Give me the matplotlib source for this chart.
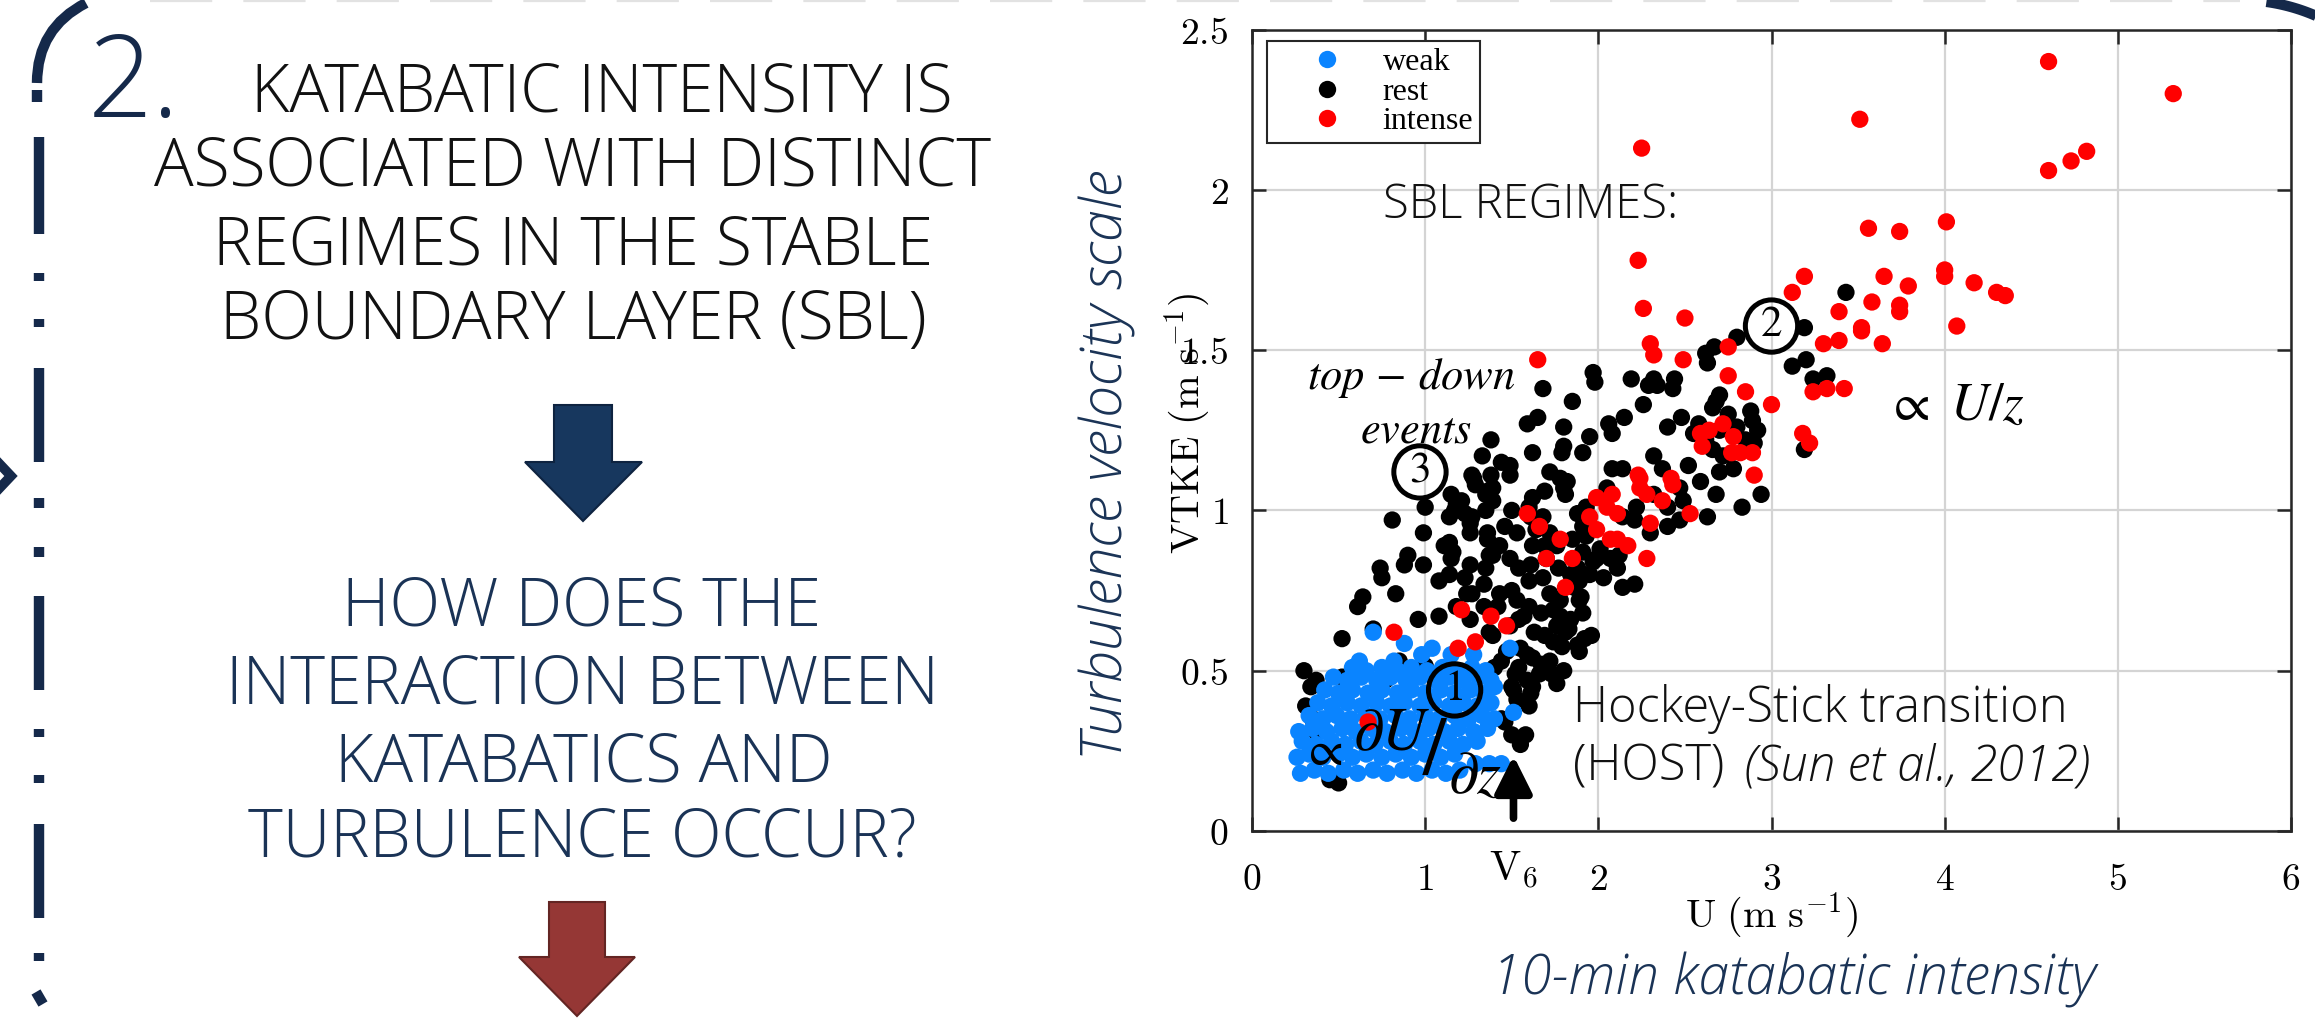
import numpy as np
import matplotlib
matplotlib.use('Agg')
import matplotlib.pyplot as plt
from matplotlib.lines import Line2D
from matplotlib.patches import Polygon, PathPatch
from matplotlib.path import Path
from matplotlib.ticker import FuncFormatter, FixedLocator
from matplotlib import font_manager as fm

# ---------------- data ----------------
x_ticks = [0, 1, 2, 3, 4, 5, 6]
y_ticks = [0, 0.5, 1, 1.5, 2, 2.5]
legend_labels = ['weak', 'rest', 'intense']

weak_pts = [
    (0.28, 0.18), (0.36, 0.19), (0.44, 0.18), (0.53, 0.19), (0.61, 0.18), (0.70, 0.19), (0.78, 0.18),
    (0.87, 0.19), (0.95, 0.18), (1.04, 0.19), (1.12, 0.18), (1.20, 0.19),
    (1.29, 0.21), (1.37, 0.21), (1.44, 0.21),
    (0.26, 0.23), (0.33, 0.24), (0.41, 0.23), (0.50, 0.24), (0.58, 0.23), (0.66, 0.24), (0.75, 0.23),
    (0.83, 0.24), (0.92, 0.23), (1.00, 0.24), (1.09, 0.23), (1.17, 0.24),
    (0.29, 0.28), (0.37, 0.27), (0.46, 0.28), (0.54, 0.27), (0.63, 0.28), (0.71, 0.27), (0.80, 0.28),
    (0.88, 0.27), (0.97, 0.28), (1.05, 0.27), (1.14, 0.28), (1.22, 0.27), (1.30, 0.28),
    (0.27, 0.31), (0.35, 0.32), (0.43, 0.31), (0.52, 0.32), (0.60, 0.31), (0.69, 0.32), (0.77, 0.31),
    (0.86, 0.32), (0.94, 0.31), (1.02, 0.32), (1.11, 0.31), (1.19, 0.32), (1.28, 0.31), (1.36, 0.32),
    (0.33, 0.36), (0.41, 0.35), (0.49, 0.36), (0.57, 0.35), (0.66, 0.36), (0.74, 0.35), (0.83, 0.36),
    (0.91, 0.35), (1.00, 0.36), (1.08, 0.35), (1.17, 0.36), (1.25, 0.35), (1.33, 0.36), (1.40, 0.35),
    (1.51, 0.37),
    (0.38, 0.40), (0.46, 0.39), (0.55, 0.40), (0.63, 0.39), (0.72, 0.40), (0.80, 0.39), (0.88, 0.40),
    (0.97, 0.39), (1.05, 0.40), (1.14, 0.39), (1.22, 0.40), (1.30, 0.39), (1.38, 0.40),
    (0.42, 0.44), (0.50, 0.43), (0.58, 0.44), (0.67, 0.43), (0.75, 0.44), (0.84, 0.43), (0.92, 0.44),
    (1.00, 0.43), (1.09, 0.44), (1.17, 0.43), (1.26, 0.44), (1.34, 0.43), (1.40, 0.45),
    (0.47, 0.48), (0.55, 0.47), (0.63, 0.48), (0.72, 0.47), (0.80, 0.48), (0.89, 0.47), (0.97, 0.48),
    (1.06, 0.47), (1.14, 0.48), (1.22, 0.47), (1.31, 0.48), (1.38, 0.47),
    (0.58, 0.51), (0.66, 0.50), (0.75, 0.51), (0.84, 0.50), (0.92, 0.51), (1.01, 0.50), (1.10, 0.51),
    (1.18, 0.50), (1.27, 0.51), (1.35, 0.50),
    (0.70, 0.62), (0.88, 0.585), (1.04, 0.57), (0.62, 0.53), (0.82, 0.53), (1.15, 0.55), (0.98, 0.55),
    (1.49, 0.57), (1.28, 0.55),
]

rest_pts = [
    (0.30, 0.50), (0.37, 0.47), (0.34, 0.45), (0.31, 0.39), (0.35, 0.35), (0.37, 0.31), (0.50, 0.15),
    (0.45, 0.16), (0.52, 0.48), (0.52, 0.60), (0.61, 0.70), (0.64, 0.73), (0.70, 0.63), (0.75, 0.79),
    (0.74, 0.82), (0.77, 0.47), (0.83, 0.74), (0.81, 0.97), (0.85, 0.53), (0.88, 0.83), (0.90, 0.86),
    (0.96, 0.66), (0.99, 0.93), (0.99, 0.83), (1.00, 0.515), (1.00, 1.01), (1.08, 0.78), (1.08, 0.67),
    (1.11, 0.89), (1.14, 0.90), (1.15, 0.85), (1.17, 1.00), (1.15, 1.05), (1.21, 1.03), (1.23, 0.79),
    (1.23, 0.99), (1.26, 0.96), (1.27, 0.74), (1.29, 1.08), (1.35, 0.82), (1.35, 1.00), (1.35, 1.05),
    (1.38, 1.22), (1.38, 1.11), (1.39, 0.86), (1.39, 1.07), (1.39, 0.61), (1.42, 0.70), (1.44, 0.53),
    (1.44, 1.15), (1.46, 0.95), (1.49, 1.11), (1.49, 1.14), (1.50, 0.75), (1.50, 0.45), (1.50, 0.30),
    (1.46, 0.34), (1.54, 0.82), (1.54, 0.66), (1.54, 0.51), (1.55, 0.57), (1.55, 0.27), (1.58, 0.30),
    (1.60, 0.78), (1.60, 0.70), (1.60, 0.39), (1.60, 1.01), (1.62, 0.45), (1.62, 0.54), (1.62, 1.04),
    (1.64, 0.94), (1.67, 0.68), (1.67, 0.52), (1.69, 0.89), (1.69, 1.06), (1.69, 0.61), (1.73, 0.49),
    (1.76, 0.46), (1.77, 0.82), (1.79, 0.575), (1.80, 0.50), (1.81, 1.05), (1.83, 0.63), (1.85, 0.91),
    (1.89, 0.78), (1.89, 0.56), (1.92, 0.60), (1.96, 0.61), (1.35, 0.41), (1.44, 0.35),
    (1.14, 0.80), (1.26, 0.83), (1.37, 0.86), (1.49, 0.85), (1.61, 0.83), (1.68, 0.79), (1.72, 0.74),
    (1.74, 0.69), (1.76, 0.64), (1.74, 0.59), (1.72, 0.53), (1.66, 0.49), (1.59, 0.47), (1.51, 0.44),
    (1.24, 0.74), (1.34, 0.77), (1.43, 0.74), (1.53, 0.72), (1.57, 0.67), (1.49, 0.64), (1.63, 0.62),
    (1.59, 0.55), (1.47, 0.56), (1.37, 0.62), (1.26, 0.66), (1.18, 0.70), (1.34, 0.70), (1.40, 0.51),
    (1.52, 0.49), (1.61, 0.43), (1.53, 0.41),
    (1.88, 0.58), (1.78, 0.67), (1.84, 0.66), (1.81, 0.62), (1.86, 0.76), (1.90, 0.73), (1.91, 0.68),
    (1.84, 0.80), (1.97, 0.84), (2.07, 0.85), (2.03, 0.79), (2.11, 0.82), (2.14, 0.76), (1.72, 0.93),
    (1.68, 0.98), (1.76, 0.89), (1.53, 0.93), (1.61, 0.98), (1.43, 0.89), (1.26, 0.93), (1.36, 0.91),
    (1.16, 0.87), (1.14, 0.98),
    (1.93, 1.01), (2.05, 1.07), (2.14, 0.98), (2.22, 1.01), (2.21, 0.97), (2.32, 1.05), (2.40, 1.01),
    (2.47, 1.07), (2.49, 1.03), (2.47, 0.97), (2.40, 0.95), (2.30, 0.93), (2.12, 0.86), (1.93, 0.92),
    (1.91, 0.87), (2.01, 0.88), (1.95, 0.80), (1.88, 0.82), (1.89, 0.72), (1.78, 0.72), (1.99, 0.85),
    (1.91, 0.95), (1.88, 0.99), (2.21, 0.77),
    (1.28, 1.10), (1.36, 1.06), (1.39, 1.03), (1.18, 1.02), (1.27, 0.98), (1.36, 0.93), (1.50, 1.00),
    (1.72, 1.12), (1.78, 1.10), (1.82, 1.09), (1.62, 0.89), (1.70, 0.85),
    (1.33, 1.17), (1.80, 1.20), (1.91, 1.18), (1.95, 1.23), (2.08, 1.13), (2.14, 1.13), (2.32, 1.17),
    (2.37, 1.13), (2.52, 1.14), (2.59, 1.09), (2.68, 1.05), (2.63, 0.98), (2.83, 1.01), (2.94, 1.05),
    (1.59, 1.27), (1.65, 1.29), (1.80, 1.26), (2.06, 1.27), (2.08, 1.24), (2.15, 1.29), (2.48, 1.29),
    (2.40, 1.26), (1.68, 1.38), (1.85, 1.34), (2.26, 1.33), (2.68, 1.34), (2.66, 1.32), (1.97, 1.43),
    (1.98, 1.40), (2.19, 1.41), (2.32, 1.41), (2.29, 1.39), (2.44, 1.41), (1.79, 1.18), (1.80, 1.07),
    (1.62, 1.18), (1.27, 1.11),
    (2.62, 1.49), (2.67, 1.51), (2.80, 1.54), (2.63, 1.46),
    (2.55, 1.24), (2.66, 1.19), (2.72, 1.17), (2.88, 1.31), (2.89, 1.28), (2.90, 1.21), (2.92, 1.25),
    (3.43, 1.68), (3.19, 1.57), (3.12, 1.45), (3.20, 1.47), (3.24, 1.41), (3.32, 1.42), (3.19, 1.19),
    (2.62, 1.22), (2.70, 1.25), (2.75, 1.30), (2.80, 1.26), (2.85, 1.22), (2.70, 1.12), (2.78, 1.13),
    (2.70, 1.36), (2.58, 1.27), (2.34, 1.39), (2.43, 1.38),
]

intense_pts = [
    (4.60, 2.40), (5.32, 2.30), (3.51, 2.22), (4.60, 2.06), (4.73, 2.09), (4.82, 2.12), (3.56, 1.88),
    (3.74, 1.87), (4.01, 1.90), (3.65, 1.73), (3.79, 1.70), (4.00, 1.75), (4.00, 1.73), (4.17, 1.71),
    (4.30, 1.68), (4.35, 1.67), (3.58, 1.65), (3.74, 1.64), (3.74, 1.62), (3.52, 1.57), (4.07, 1.575),
    (3.19, 1.73), (3.12, 1.68), (3.39, 1.62), (3.52, 1.56), (3.30, 1.52), (3.39, 1.53), (3.64, 1.52),
    (3.24, 1.37), (3.32, 1.38), (3.42, 1.38), (3.00, 1.33), (3.18, 1.24), (3.22, 1.21), (2.89, 1.18),
    (2.90, 1.11),
    (2.25, 2.13), (2.23, 1.78), (2.26, 1.63), (2.50, 1.60), (2.30, 1.52), (2.32, 1.485), (2.49, 1.47),
    (2.75, 1.51), (2.75, 1.42), (2.85, 1.37), (1.65, 1.47),
    (2.59, 1.24), (2.64, 1.25), (2.60, 1.20), (2.72, 1.27), (2.78, 1.23), (2.77, 1.18), (2.82, 1.18),
    (2.23, 1.11), (2.42, 1.10),
    (1.59, 0.99), (1.66, 0.95), (1.78, 0.91), (1.70, 0.85), (1.85, 0.85), (1.81, 0.76),
    (1.99, 1.04), (2.08, 1.05), (2.05, 1.01), (2.11, 0.99), (1.95, 0.98), (1.99, 0.94), (2.07, 0.91),
    (2.11, 0.91), (2.17, 0.89), (2.30, 0.96), (2.28, 0.85), (2.24, 1.10), (2.24, 1.07), (2.28, 1.05),
    (2.37, 1.03), (2.43, 1.08), (2.53, 0.99),
    (0.82, 0.62), (1.21, 0.69), (1.38, 0.67), (1.47, 0.64), (1.19, 0.57), (1.29, 0.59), (0.67, 0.34),
]

# ---------------- style ----------------
W, H = 2315, 1021
NAVY = '#15294a'
NAVY_TXT = '#1a3356'
C_WEAK, C_REST, C_INT = '#0a84ff', '#000000', '#ff0000'

plt.rcParams['mathtext.fontset'] = 'cm'


def pick_light():
    for fam in ['Open Sans', 'Lato', 'Roboto', 'Noto Sans', 'Inter']:
        try:
            p = fm.findfont(fm.FontProperties(family=fam, weight='light'), fallback_to_default=False)
            if 'light' in p.lower():
                return fam
        except Exception:
            pass
    return 'Open Sans'

LIGHT = pick_light()

fig = plt.figure(figsize=(W / 100, H / 100), dpi=100)
renderer = fig.canvas.get_renderer()

# decoration layer in pixel coordinates (y down)
deco = fig.add_axes([0, 0, 1, 1])
deco.set_xlim(0, W)
deco.set_ylim(H, 0)
deco.axis('off')


def fit(t, width=None, height=None):
    bb = t.get_window_extent(renderer)
    if width is not None:
        t.set_fontsize(t.get_fontsize() * width / bb.width)
    else:
        t.set_fontsize(t.get_fontsize() * height / bb.height)


# ---- left dash-dot border ----
segs = [(137, 234), (273, 281), (319, 327), (368, 462), (498, 508), (547, 557), (596, 690),
        (729, 737), (775, 783), (824, 918), (953, 961)]
for a, b in segs:
    deco.plot([39, 39], [a, b], color=NAVY, lw=7.5, solid_capstyle='butt')
deco.plot([36, 43], [992, 1004], color=NAVY, lw=7.5, solid_capstyle='butt')
deco.plot([37, 37], [90, 102], color=NAVY, lw=7.5, solid_capstyle='butt')
arc = Path([(37, 83), (37, 28), (86, 3)], [Path.MOVETO, Path.CURVE3, Path.CURVE3])
deco.add_patch(PathPatch(arc, fc='none', ec=NAVY, lw=7.5, capstyle='butt'))
deco.plot([-6, 11, -6], [458, 476, 494], color=NAVY, lw=7, solid_joinstyle='miter')
# top faint dashes
deco.plot([150, 2240], [1.0, 1.0], color='#e2e2e2', lw=1.6, dashes=(28, 14))
# top-right corner arc
tt = np.linspace(np.radians(82), np.radians(45), 40)
deco.plot(2240 + 190 * np.cos(tt), 190 - 190 * np.sin(tt), color=NAVY, lw=7.5, solid_capstyle='butt')

# ---- left panel texts ----
deco.text(88, 117, '2.', color=NAVY, fontsize=82, family=LIGHT, fontweight='light',
          ha='left', va='baseline')
top_lines = [('KATABATIC INTENSITY IS', 602, 111, 712), ('ASSOCIATED WITH DISTINCT', 573, 186, 845),
             ('REGIMES IN THE STABLE', 573, 264, 705), ('BOUNDARY LAYER (SBL)', 573, 339, 705)]
bot_lines = [('HOW DOES THE', 582, 625, 477), ('INTERACTION BETWEEN', 582, 703, 716),
             ('KATABATICS AND', 584, 781, 508), ('TURBULENCE OCCUR?', 582, 856, 659)]
for lines, col in [(top_lines, '#111111'), (bot_lines, NAVY_TXT)]:
    objs = []
    ratios = []
    for s, xc, yb, wd in lines:
        t = deco.text(xc, yb, s, color=col, fontsize=48, family=LIGHT, fontweight='light',
                      ha='center', va='baseline')
        bb = t.get_window_extent(renderer)
        ratios.append(wd / bb.width)
        objs.append(t)
    r = float(np.mean(ratios))
    for t in objs:
        t.set_fontsize(48 * r)

# arrows
navy_arrow = [(554, 405), (612, 405), (612, 462), (642, 462), (583, 521), (525, 462), (554, 462)]
deco.add_patch(Polygon(navy_arrow, closed=True, fc='#17375e', ec='#0e2340', lw=1.5))
red_arrow = [(549, 902), (605, 902), (605, 957), (635, 957), (577, 1016), (519, 957), (549, 957)]
deco.add_patch(Polygon(red_arrow, closed=True, fc='#953735', ec='#632523', lw=1.5))

# side labels
ty = deco.text(1108, 465, 'Turbulence velocity scale', color=NAVY_TXT, fontsize=36, family=LIGHT,
               fontweight='light', style='italic', rotation=90, ha='center', va='center')
fit(ty, height=590)
tx = deco.text(1794, 980, '10-min katabatic intensity', color=NAVY_TXT, fontsize=36, family=LIGHT,
               fontweight='light', style='italic', ha='center', va='center')
fit(tx, width=606)

# ---------------- main scatter axes ----------------
ax = fig.add_axes([1252 / W, 1 - 831 / H, 1039 / W, 801.5 / H])
ax.set_xlim(0, 6)
ax.set_ylim(0, 2.5)
ax.xaxis.set_major_locator(FixedLocator(x_ticks))
ax.yaxis.set_major_locator(FixedLocator(y_ticks))
fmt = FuncFormatter(lambda v, p: '$%g$' % v)
ax.xaxis.set_major_formatter(fmt)
ax.yaxis.set_major_formatter(fmt)
ax.grid(True, color='#d4d4d4', lw=1.6)
ax.set_axisbelow(True)
for sp in ax.spines.values():
    sp.set_color('#262626')
    sp.set_linewidth(1.8)
ax.tick_params(direction='in', length=10, width=1.8, color='#262626', top=True, right=True,
               labelsize=27)
ax.tick_params(axis='x', pad=22)
ax.tick_params(axis='y', pad=17)

wu, wv = zip(*weak_pts)
ru, rv = zip(*rest_pts)
iu, iv = zip(*intense_pts)
S = 155
ax.scatter(ru, rv, s=S, c=C_REST, edgecolors='none', zorder=2)
ax.scatter(wu, wv, s=S, c=C_WEAK, edgecolors='none', zorder=2.1)
ax.scatter(iu, iv, s=S, c=C_INT, edgecolors='none', zorder=2.2)

handles = [Line2D([], [], ls='none', marker='o', ms=12.5, mfc=c, mec='none')
           for c in (C_WEAK, C_REST, C_INT)]
leg = ax.legend(handles, legend_labels, loc='upper left', bbox_to_anchor=(0.0144, 0.9857),
                borderaxespad=0, frameon=True, fancybox=False, edgecolor='#262626', framealpha=1,
                prop=dict(family='Liberation Serif', size=23), handlelength=3.3, handletextpad=0.1,
                labelspacing=0.0, borderpad=0.22)
leg.get_frame().set_linewidth(1.5)

# axis labels (serif, LaTeX-like)
ax.text(0.5, -0.106, r'$\mathrm{U\ (m\ s^{-1})}$', transform=ax.transAxes, ha='center',
        va='center', fontsize=29)
ax.text(-0.0616, 0.508, r'$\mathrm{VTKE\ (m\ s^{-1})}$', transform=ax.transAxes, ha='center',
        va='center', fontsize=29, rotation=90)
ax.text(1.51, -0.022, r'$\mathrm{V}_6$', transform=ax.get_xaxis_transform(), ha='center',
        va='top', fontsize=30)
ax.annotate('', xy=(1.51, 0.235), xytext=(1.51, 0.04),
            arrowprops=dict(arrowstyle='-|>,head_length=0.8,head_width=0.4', lw=5.5, color='k',
                            mutation_scale=28, shrinkA=0, shrinkB=0), zorder=5)

# annotations
ts = ax.text(1.61, 1.95, 'SBL REGIMES:', family=LIGHT, fontweight='light', fontsize=36,
             ha='center', va='center', color='#111111')
fit(ts, width=295)
th = ax.text(1.853, 0.34, 'Hockey-Stick transition', family=LIGHT, fontweight='light', fontsize=34,
             ha='left', va='baseline', color='#111111')
fit(th, width=495)
hs = th.get_fontsize()
ax.text(1.853, 0.157, '(HOST)', family=LIGHT, fontweight='light', fontsize=hs, ha='left',
        va='baseline', color='#111111')
ax.text(2.84, 0.157, '(Sun et al., 2012)', family=LIGHT, fontweight='light', style='italic',
        fontsize=hs, ha='left', va='baseline', color='#111111')

ax.text(0.92, 1.413, r'$top\,-\,down$', fontsize=32, math_fontfamily='stix', ha='center',
        va='center', zorder=6)
ax.text(0.95, 1.25, r'$events$', fontsize=32, math_fontfamily='stix', ha='center', va='center',
        zorder=6)
ax.text(4.06, 1.33, r'$\propto\ U/z$', fontsize=38, math_fontfamily='stix', ha='center',
        va='center', zorder=6)
ax.text(0.40, 0.25, r'$\propto$', fontsize=36, math_fontfamily='stix', ha='center', va='center',
        zorder=6)
ax.text(0.81, 0.305, r'$\partial U$', fontsize=44, math_fontfamily='stix', ha='center', va='center',
        zorder=6)
ax.text(1.06, 0.25, r'$/$', fontsize=60, math_fontfamily='stix', ha='center', va='center', zorder=6)
ax.text(1.29, 0.17, r'$\partial z$', fontsize=44, math_fontfamily='stix', ha='center', va='center',
        zorder=6)

for num, (cu, cv) in zip(['1', '2', '3'], [(1.17, 0.44), (3.0, 1.575), (0.97, 1.12)]):
    ax.text(cu, cv, num, family='STIXGeneral', fontsize=31, ha='center', va='center', zorder=7,
            bbox=dict(boxstyle='circle,pad=0.16', fc='none', ec='k', lw=3.6))

fig.savefig('out.png', dpi=100)
